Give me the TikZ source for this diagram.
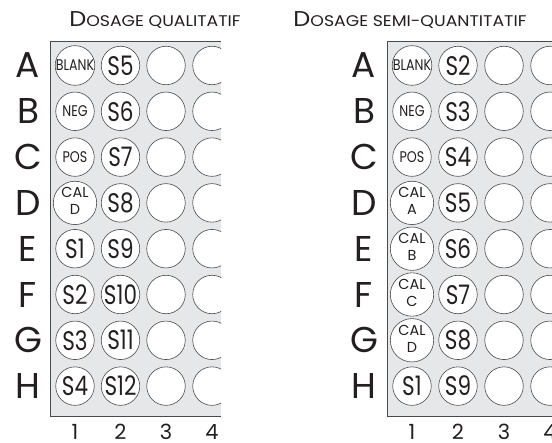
\documentclass[tikz,border=0pt]{standalone}
\usepackage{fontspec}
\setmainfont{Poppins}
\usepackage{xcolor}
\usetikzlibrary{positioning}
\definecolor{wpPlateGray}{HTML}{E6E7E8}
\definecolor{wpLine}{HTML}{4A4A4A}
\definecolor{wpText}{HTML}{231F20}
\tikzset{
    wpWell/.style={
        circle,
        draw=wpLine,
        fill=white,
        line width=0.6pt,
        minimum size=38.5bp,
        inner sep=0pt,
        align=center,
        text=wpText
    },
    wpPlate/.style={fill=wpPlateGray},
    wpEdge/.style={draw=wpLine,line width=0.9pt},
    wpRow/.style={font=\fontsize{36}{36}\selectfont,text=wpText,inner sep=0pt},
    wpCol/.style={font=\fontsize{21}{21}\selectfont,text=wpText,inner sep=0pt},
    wpTitle/.style={text=wpText,inner sep=0pt}
}
\newcommand{\wpCaps}[2]{\scalebox{1.12}[1]{{\fontsize{21.5}{21.5}\selectfont #1}{\fontsize{15.5}{15.5}\selectfont #2}}}
\newcommand{\wpBig}[1]{\scalebox{0.8}[1]{\fontsize{27}{27}\selectfont #1}}
\newcommand{\wpSmall}[1]{\scalebox{0.82}[1]{\fontsize{15.5}{15.5}\selectfont #1}}
\newcommand{\wpCal}[1]{{\fontsize{14.5}{17}\selectfont
    \begin{tabular}{@{}c@{}}CAL\\#1\end{tabular}}}

\begin{document}
\begin{tikzpicture}[x=1bp,y=-1bp]
    \useasboundingbox (0,0) rectangle (552,443);

    % titles
    \node[wpTitle] (qualTitle) at (155,20) {\wpCaps{D}{OSAGE QUALITATIF}};
    \node[wpTitle] (semiTitle) at (410,20) {\wpCaps{D}{OSAGE SEMI-QUANTITATIF}};

    % left plate
    \begin{scope}
        \clip (50,41) rectangle (221,416);
        \fill[wpPlate] (50,41) rectangle (221,416);
        \foreach \r/\a/\b [count=\i from 0] in {
            A/\wpSmall{BLANK}/\wpBig{S5},
            B/\wpSmall{NEG}/\wpBig{S6},
            C/\wpSmall{POS}/\wpBig{S7},
            D/\wpCal{D}/\wpBig{S8},
            E/\wpBig{S1}/\wpBig{S9},
            F/\wpBig{S2}/\wpBig{S10},
            G/\wpBig{S3}/\wpBig{S11},
            H/\wpBig{S4}/\wpBig{S12}}{
            \node[wpWell] (qual-\r1) at (75,65.5+45.8*\i) {\a};
            \node[wpWell] (qual-\r2) at (120.5,65.5+45.8*\i) {\b};
            \node[wpWell] (qual-\r3) at (166,65.5+45.8*\i) {};
            \node[wpWell] (qual-\r4) at (212,65.5+45.8*\i) {};
        }
    \end{scope}
    \draw[wpEdge] (221,41) -- (50,41) -- (50,416) -- (221,416);

    % right plate
    \begin{scope}
        \clip (387,41) rectangle (553,416);
        \fill[wpPlate] (387,41) rectangle (553,416);
        \foreach \r/\a/\b [count=\i from 0] in {
            A/\wpSmall{BLANK}/\wpBig{S2},
            B/\wpSmall{NEG}/\wpBig{S3},
            C/\wpSmall{POS}/\wpBig{S4},
            D/\wpCal{A}/\wpBig{S5},
            E/\wpCal{B}/\wpBig{S6},
            F/\wpCal{C}/\wpBig{S7},
            G/\wpCal{D}/\wpBig{S8},
            H/\wpBig{S1}/\wpBig{S9}}{
            \node[wpWell] (semi-\r1) at (412,65.5+45.8*\i) {\a};
            \node[wpWell] (semi-\r2) at (458,65.5+45.8*\i) {\b};
            \node[wpWell] (semi-\r3) at (504,65.5+45.8*\i) {};
            \node[wpWell] (semi-\r4) at (550,65.5+45.8*\i) {};
        }
    \end{scope}
    \draw[wpEdge] (553,41) -- (387,41) -- (387,416) -- (553,416);

    % row letters
    \foreach \r [count=\i from 0] in {A,B,C,D,E,F,G,H}{
        \node[wpRow] (qualRow\r) at (28,65.5+45.8*\i) {\r};
        \node[wpRow] (semiRow\r) at (364,65.5+45.8*\i) {\r};
    }

    % column numbers
    \foreach \c in {1,2,3,4}{
        \node[wpCol,below=38bp of qual-H\c.center] (qualCol\c) {\c};
        \node[wpCol,below=38bp of semi-H\c.center] (semiCol\c) {\c};
    }
\end{tikzpicture}
\end{document}
